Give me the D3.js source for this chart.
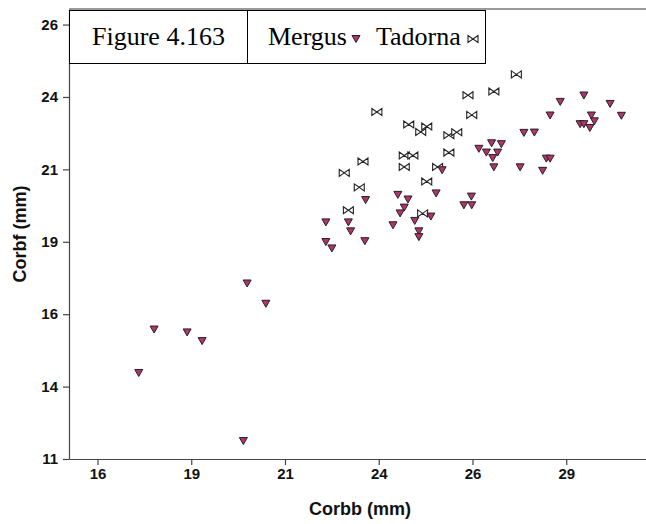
<!DOCTYPE html>
<html>
<head>
<meta charset="utf-8">
<script src="https://cdn.jsdelivr.net/npm/d3@7"></script>
<style>
  html, body { margin: 0; padding: 0; background: #fff; }
  svg { display: block; }
</style>
</head>
<body>
<svg id="chart" width="646" height="524"></svg>
<script>
// ---- Data ----
const mergusX = [17.10, 17.51, 18.39, 18.79, 19.99, 20.49, 19.89, 22.09, 22.69, 22.75,
                 22.09, 22.25, 23.13, 23.15, 23.88, 24.01, 24.28, 24.18, 24.07, 24.46,
                 24.57, 24.57, 24.89, 25.03, 25.97, 25.77, 25.98, 25.19, 26.57, 27.27,
                 27.87, 27.97, 28.07, 26.54, 26.17, 26.37, 26.67, 26.51, 26.77, 27.37,
                 27.65, 28.07, 28.34, 28.97, 29.67, 29.17, 29.97, 28.87, 28.97, 29.25, 29.13];
const mergusY = [13.97, 15.47, 15.37, 15.07, 17.06, 16.36, 11.62, 19.17, 19.17, 18.86,
                 18.49, 18.27, 18.52, 19.94, 19.07, 20.12, 19.96, 19.68, 19.48, 19.22,
                 18.86, 18.66, 19.37, 20.17, 20.06, 19.76, 19.76, 20.97, 21.07, 21.07,
                 20.95, 21.37, 21.37, 21.39, 21.71, 21.58, 21.58, 21.90, 21.87, 22.26,
                 22.27, 22.86, 23.33, 23.55, 23.26, 22.86, 22.85, 22.56, 22.56, 22.66, 22.43];

const tadornaX = [27.17, 25.88, 26.57, 23.45, 25.98, 24.30, 24.78, 24.62, 25.37, 25.58,
                  23.08, 24.18, 24.41, 25.37, 22.58, 24.18, 25.07, 22.98, 24.78, 22.69, 24.67];
const tadornaY = [24.28, 23.56, 23.69, 22.98, 22.88, 22.55, 22.48, 22.29, 22.18, 22.28,
                  21.27, 21.48, 21.48, 21.58, 20.88, 21.08, 21.08, 20.38, 20.58, 19.59, 19.48];

const seriesNames = ["Mergus", "Tadorna"];
const legendTitle = "Figure 4.163";
const xTickValues = [16, 18.5, 21, 23.5, 26, 28.5];
const xTickLabels = ["16", "19", "21", "24", "26", "29"];
const yTickValues = [11, 13.5, 16, 18.5, 21, 23.5, 26];
const yTickLabels = ["11", "14", "16", "19", "21", "24", "26"];
const xTitle = "Corbb (mm)";
const yTitle = "Corbf (mm)";

(function draw() {
  // ---- Layout ----
  const pLeft = 69, pRight = 646, pTop = 9.5, pBottom = 459;
  const svg = d3.select("#chart");

  const x = d3.scaleLinear().domain([15.24, 30.627]).range([pLeft, pRight]);
  const y = d3.scaleLinear().domain([11, 26.52]).range([pBottom, pTop]);

  // top frame line
  svg.append("line")
    .attr("x1", pLeft).attr("x2", pRight + 2)
    .attr("y1", 9).attr("y2", 9)
    .attr("stroke", "#9a9a9a").attr("stroke-width", 2);

  // axes
  const axisColor = "#444";
  const xAxis = d3.axisBottom(x)
    .tickValues(xTickValues)
    .tickFormat((d, i) => xTickLabels[i])
    .tickSizeInner(6).tickSizeOuter(0).tickPadding(3);
  const gx = svg.append("g").attr("transform", `translate(0,${pBottom})`).call(xAxis);

  const yAxis = d3.axisLeft(y)
    .tickValues(yTickValues)
    .tickFormat((d, i) => yTickLabels[i])
    .tickSizeInner(6).tickSizeOuter(0).tickPadding(5);
  const gy = svg.append("g").attr("transform", `translate(${pLeft},0)`).call(yAxis);

  [gx, gy].forEach(g => {
    g.select(".domain").attr("stroke", axisColor).attr("stroke-width", 1.2);
    g.selectAll(".tick line").attr("stroke", axisColor).attr("stroke-width", 1.2);
    g.selectAll(".tick text")
      .attr("fill", "#111")
      .style("font-family", "'Liberation Sans', Arial, sans-serif")
      .style("font-size", "15px")
      .style("font-weight", "bold");
  });

  // axis titles
  svg.append("text")
    .attr("x", 360).attr("y", 515)
    .attr("text-anchor", "middle")
    .style("font-family", "'Liberation Sans', Arial, sans-serif")
    .style("font-size", "18px").style("font-weight", "bold")
    .attr("fill", "#111")
    .text(xTitle);

  svg.append("text")
    .attr("transform", `translate(26,234) rotate(-90)`)
    .attr("text-anchor", "middle")
    .style("font-family", "'Liberation Sans', Arial, sans-serif")
    .style("font-size", "18px").style("font-weight", "bold")
    .attr("fill", "#111")
    .text(yTitle);

  // marker shapes
  const triPath = "M-4,-3.5L4,-3.5L0,3.5Z";
  const bowPath = "M-5,-3.5L0,0L-5,3.5ZM5,-3.5L0,0L5,3.5Z";
  const mergusFill = "#b3336f";

  const mergus = mergusX.map((v, i) => ({x: v, y: mergusY[i]}));
  const tadorna = tadornaX.map((v, i) => ({x: v, y: tadornaY[i]}));

  svg.append("g").selectAll("path").data(tadorna).join("path")
    .attr("d", bowPath)
    .attr("transform", d => `translate(${x(d.x)},${y(d.y)})`)
    .attr("fill", "#fff").attr("stroke", "#222").attr("stroke-width", 1.1);

  svg.append("g").selectAll("path").data(mergus).join("path")
    .attr("d", triPath)
    .attr("transform", d => `translate(${x(d.x)},${y(d.y)})`)
    .attr("fill", mergusFill).attr("stroke", "#222").attr("stroke-width", 1);

  // legend
  const lg = svg.append("g");
  lg.append("rect")
    .attr("x", 69.5).attr("y", 10.5).attr("width", 416).attr("height", 53)
    .attr("fill", "#fff").attr("stroke", "#000").attr("stroke-width", 1);
  lg.append("line")
    .attr("x1", 247.5).attr("x2", 247.5).attr("y1", 10.5).attr("y2", 63.5)
    .attr("stroke", "#000").attr("stroke-width", 1);
  const serif = "'Liberation Serif', 'Times New Roman', serif";
  lg.append("text").attr("x", 92).attr("y", 45)
    .style("font-family", serif).style("font-size", "26px").attr("fill", "#000")
    .text(legendTitle);
  lg.append("text").attr("x", 268).attr("y", 45)
    .style("font-family", serif).style("font-size", "26px").attr("fill", "#000")
    .text(seriesNames[0]);
  lg.append("path").attr("d", triPath).attr("transform", "translate(356,39)")
    .attr("fill", mergusFill).attr("stroke", "#222").attr("stroke-width", 1);
  lg.append("text").attr("x", 376).attr("y", 45)
    .style("font-family", serif).style("font-size", "26px").attr("fill", "#000")
    .text(seriesNames[1]);
  lg.append("path").attr("d", bowPath).attr("transform", "translate(473,39)")
    .attr("fill", "#fff").attr("stroke", "#222").attr("stroke-width", 1.1);
})();
</script>
</body>
</html>
